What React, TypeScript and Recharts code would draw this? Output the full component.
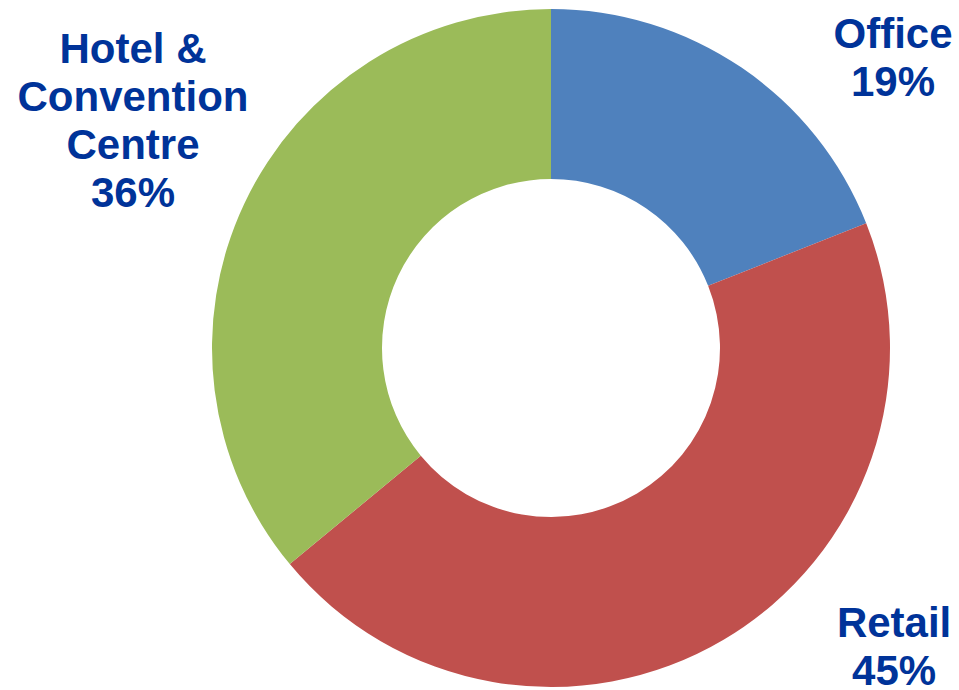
import React from "react";
import { PieChart, Pie, Cell } from "recharts";

const categories = ["Office", "Retail", "Hotel & Convention Centre"];
const shares = [19, 45, 36];
const labelLines = [["Office"], ["Retail"], ["Hotel &", "Convention", "Centre"]];
const colors = ["#4F81BD", "#C0504D", "#9BBB59"];

const data = categories.map((name, i) => ({ name, value: shares[i] }));

// label anchors relative to the pie centre, in units of the outer radius
const labelAnchor: Record<string, { dx: number; dy: number }> = {
  Office: { dx: 1.009, dy: -0.885 },
  Retail: { dx: 1.012, dy: 0.853 },
  "Hotel & Convention Centre": { dx: -1.233, dy: -0.841 },
};

const LINE_H = 48;

const renderLabel = (props: any) => {
  const { cx, cy, outerRadius, index, name, value } = props;
  const a = labelAnchor[name];
  const x = cx + a.dx * outerRadius;
  const y = cy + a.dy * outerRadius;
  const lines = [...labelLines[index], `${value}%`];
  return (
    <text
      key={name}
      x={x}
      y={y}
      textAnchor="middle"
      fill="#003399"
      style={{ fontFamily: "'Liberation Sans', Arial, sans-serif", fontWeight: 700, fontSize: 42 }}
    >
      {lines.map((l, i) => (
        <tspan key={i} x={x} y={y + i * LINE_H}>
          {l}
        </tspan>
      ))}
    </text>
  );
};

export default function App() {
  return (
    <div style={{ position: "absolute", left: 0, top: 0, width: 959, height: 690, background: "#fff" }}>
      <PieChart width={959} height={690} margin={{ top: 0, right: 0, bottom: 0, left: 0 }}>
        <Pie
          data={data}
          dataKey="value"
          nameKey="name"
          cx={551}
          cy={348}
          innerRadius={169}
          outerRadius={339}
          startAngle={90}
          endAngle={-270}
          stroke="none"
          label={renderLabel}
          labelLine={false}
          isAnimationActive={false}
        >
          {data.map((d, i) => (
            <Cell key={d.name} fill={colors[i]} />
          ))}
        </Pie>
      </PieChart>
    </div>
  );
}
